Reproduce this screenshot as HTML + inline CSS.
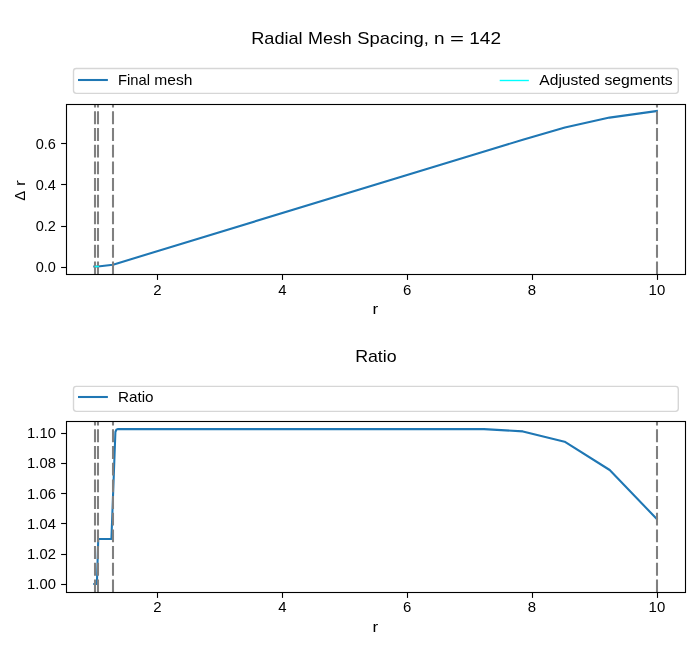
<!DOCTYPE html>
<html><head><meta charset="utf-8"><title>Radial Mesh Spacing</title>
<style>
html,body{margin:0;padding:0;background:#fff;}
body{width:700px;height:650px;overflow:hidden;}
svg{display:block;will-change:transform;}
text{font-family:"Liberation Sans",sans-serif;fill:#000;}
.t10{font-size:14.2px;}
.t12{font-size:17.0px;}
.sp{fill:none;stroke:#000;stroke-width:1.11;stroke-linecap:square;}
.tk{stroke:#000;stroke-width:1.11;}
.bl{fill:none;stroke:#1f77b4;stroke-width:2.08;stroke-linecap:square;stroke-linejoin:round;}
.gd{stroke:#808080;stroke-width:2.08;stroke-dasharray:12.9 3.77;fill:none;}
.lg{fill:#fff;fill-opacity:0.8;stroke:#ccc;stroke-opacity:0.8;stroke-width:1.39;}
</style></head><body>
<svg width="700" height="650" viewBox="0 0 700 650">
<rect x="0" y="0" width="700" height="650" fill="#fff"/>

<clipPath id="c1"><rect x="66.50" y="104.50" width="619.00" height="170.00"/></clipPath>
<g clip-path="url(#c1)">
<polyline class="bl" points="94.30,266.50 97.90,266.50 113.00,264.70 484.20,151.40 522.80,139.80 564.90,127.40 609.50,117.60 656.90,111.00"/>
<line class="gd" x1="95.00" y1="274.30" x2="95.00" y2="104.50"/>
<line class="gd" x1="98.00" y1="274.30" x2="98.00" y2="104.50"/>
<line class="gd" x1="113.00" y1="274.30" x2="113.00" y2="104.50"/>
<line class="gd" x1="657.00" y1="274.30" x2="657.00" y2="104.50"/>
<line x1="95.4" y1="266.5" x2="98.3" y2="266.5" stroke="#00ffff" stroke-width="1.39" stroke-linecap="square"/>
</g>
<line class="tk" x1="157.50" y1="274.50" x2="157.50" y2="279.90"/>
<text class="t10" x="153.25" y="294.65" textLength="8.31" lengthAdjust="spacingAndGlyphs">2</text>
<line class="tk" x1="282.50" y1="274.50" x2="282.50" y2="279.90"/>
<text class="t10" x="278.15" y="294.65" textLength="8.31" lengthAdjust="spacingAndGlyphs">4</text>
<line class="tk" x1="407.50" y1="274.50" x2="407.50" y2="279.90"/>
<text class="t10" x="403.05" y="294.65" textLength="8.31" lengthAdjust="spacingAndGlyphs">6</text>
<line class="tk" x1="532.50" y1="274.50" x2="532.50" y2="279.90"/>
<text class="t10" x="527.85" y="294.65" textLength="8.31" lengthAdjust="spacingAndGlyphs">8</text>
<line class="tk" x1="657.50" y1="274.50" x2="657.50" y2="279.90"/>
<text class="t10" x="648.59" y="294.65" textLength="16.61" lengthAdjust="spacingAndGlyphs">10</text>
<line class="tk" x1="61.10" y1="267.50" x2="66.50" y2="267.50"/>
<text class="t10" x="35.69" y="272.30" textLength="20.21" lengthAdjust="spacingAndGlyphs">0.0</text>
<line class="tk" x1="61.10" y1="226.50" x2="66.50" y2="226.50"/>
<text class="t10" x="35.69" y="231.40" textLength="20.21" lengthAdjust="spacingAndGlyphs">0.2</text>
<line class="tk" x1="61.10" y1="184.50" x2="66.50" y2="184.50"/>
<text class="t10" x="35.69" y="190.10" textLength="20.21" lengthAdjust="spacingAndGlyphs">0.4</text>
<line class="tk" x1="61.10" y1="143.50" x2="66.50" y2="143.50"/>
<text class="t10" x="35.69" y="148.80" textLength="20.21" lengthAdjust="spacingAndGlyphs">0.6</text>
<rect class="sp" x="66.50" y="104.50" width="619.00" height="170.00"/>
<text class="t10" x="372.54" y="313.80" textLength="5.71" lengthAdjust="spacingAndGlyphs">r</text>
<clipPath id="c2"><rect x="66.50" y="421.50" width="619.00" height="171.00"/></clipPath>
<g clip-path="url(#c2)">
<polyline class="bl" points="94.30,584.00 96.90,584.00 98.25,539.00 111.40,539.00 114.55,455.00 115.40,432.00 116.30,429.80 117.70,429.10 484.00,429.10 522.90,431.40 564.60,441.70 609.70,470.00 656.80,519.00"/>
<line class="gd" x1="95.00" y1="592.30" x2="95.00" y2="421.50"/>
<line class="gd" x1="98.00" y1="592.30" x2="98.00" y2="421.50"/>
<line class="gd" x1="113.00" y1="592.30" x2="113.00" y2="421.50"/>
<line class="gd" x1="657.00" y1="592.30" x2="657.00" y2="421.50"/>
</g>
<line class="tk" x1="157.50" y1="592.50" x2="157.50" y2="597.90"/>
<text class="t10" x="153.25" y="611.55" textLength="8.31" lengthAdjust="spacingAndGlyphs">2</text>
<line class="tk" x1="282.50" y1="592.50" x2="282.50" y2="597.90"/>
<text class="t10" x="278.15" y="611.55" textLength="8.31" lengthAdjust="spacingAndGlyphs">4</text>
<line class="tk" x1="407.50" y1="592.50" x2="407.50" y2="597.90"/>
<text class="t10" x="403.05" y="611.55" textLength="8.31" lengthAdjust="spacingAndGlyphs">6</text>
<line class="tk" x1="532.50" y1="592.50" x2="532.50" y2="597.90"/>
<text class="t10" x="527.85" y="611.55" textLength="8.31" lengthAdjust="spacingAndGlyphs">8</text>
<line class="tk" x1="657.50" y1="592.50" x2="657.50" y2="597.90"/>
<text class="t10" x="648.59" y="611.55" textLength="16.61" lengthAdjust="spacingAndGlyphs">10</text>
<line class="tk" x1="61.10" y1="584.50" x2="66.50" y2="584.50"/>
<text class="t10" x="27.14" y="589.10" textLength="28.76" lengthAdjust="spacingAndGlyphs">1.00</text>
<line class="tk" x1="61.10" y1="554.50" x2="66.50" y2="554.50"/>
<text class="t10" x="27.14" y="558.90" textLength="28.76" lengthAdjust="spacingAndGlyphs">1.02</text>
<line class="tk" x1="61.10" y1="523.50" x2="66.50" y2="523.50"/>
<text class="t10" x="27.14" y="528.70" textLength="28.76" lengthAdjust="spacingAndGlyphs">1.04</text>
<line class="tk" x1="61.10" y1="493.50" x2="66.50" y2="493.50"/>
<text class="t10" x="27.14" y="498.90" textLength="28.76" lengthAdjust="spacingAndGlyphs">1.06</text>
<line class="tk" x1="61.10" y1="463.50" x2="66.50" y2="463.50"/>
<text class="t10" x="27.14" y="468.20" textLength="28.76" lengthAdjust="spacingAndGlyphs">1.08</text>
<line class="tk" x1="61.10" y1="433.50" x2="66.50" y2="433.50"/>
<text class="t10" x="27.14" y="438.00" textLength="28.76" lengthAdjust="spacingAndGlyphs">1.10</text>
<rect class="sp" x="66.50" y="421.50" width="619.00" height="171.00"/>
<text class="t10" x="372.54" y="631.80" textLength="5.71" lengthAdjust="spacingAndGlyphs">r</text>
<g transform="translate(25.2,0) rotate(-90)"><text class="t10" x="-200.65" y="0" textLength="10.0" lengthAdjust="spacingAndGlyphs">Δ</text><text class="t10" x="-186.0" y="0" textLength="5.71" lengthAdjust="spacingAndGlyphs">r</text></g>
<rect class="lg" x="73.5" y="68.45" width="604.80" height="24.95" rx="2.78" ry="2.78"/>
<line x1="79.06" y1="80.00" x2="106.84" y2="80.00" stroke="#1f77b4" stroke-width="2.08" stroke-linecap="square"/>
<text class="t10" y="84.90" xml:space="preserve"><tspan x="117.95" textLength="32.01" lengthAdjust="spacingAndGlyphs">Final</tspan> <tspan x="154.37" textLength="38.11" lengthAdjust="spacingAndGlyphs">mesh</tspan></text>
<line x1="500.40" y1="80.50" x2="528.18" y2="80.50" stroke="#00ffff" stroke-width="1.39" stroke-linecap="square"/>
<text class="t10" y="84.90" xml:space="preserve"><tspan x="539.29" textLength="60.78" lengthAdjust="spacingAndGlyphs">Adjusted</tspan> <tspan x="604.48" textLength="68.16" lengthAdjust="spacingAndGlyphs">segments</tspan></text>
<rect class="lg" x="73.5" y="386.40" width="604.80" height="25.00" rx="2.78" ry="2.78"/>
<line x1="79.06" y1="397.00" x2="106.84" y2="397.00" stroke="#1f77b4" stroke-width="2.08" stroke-linecap="square"/>
<text class="t10" x="117.95" y="402.00" textLength="35.66" lengthAdjust="spacingAndGlyphs">Ratio</text>
<text class="t12" y="43.70" xml:space="preserve"><tspan x="251.20" textLength="51.48" lengthAdjust="spacingAndGlyphs">Radial</tspan> <tspan x="307.98" textLength="43.88" lengthAdjust="spacingAndGlyphs">Mesh</tspan> <tspan x="357.16" textLength="71.61" lengthAdjust="spacingAndGlyphs">Spacing,</tspan> <tspan x="434.06" textLength="10.56" lengthAdjust="spacingAndGlyphs">n</tspan> <tspan x="449.93" textLength="13.97" lengthAdjust="spacingAndGlyphs">=</tspan> <tspan x="469.19" textLength="31.81" lengthAdjust="spacingAndGlyphs">142</tspan></text>
<text class="t12" x="355.15" y="361.70" textLength="41.51" lengthAdjust="spacingAndGlyphs">Ratio</text>
</svg>
</body></html>
